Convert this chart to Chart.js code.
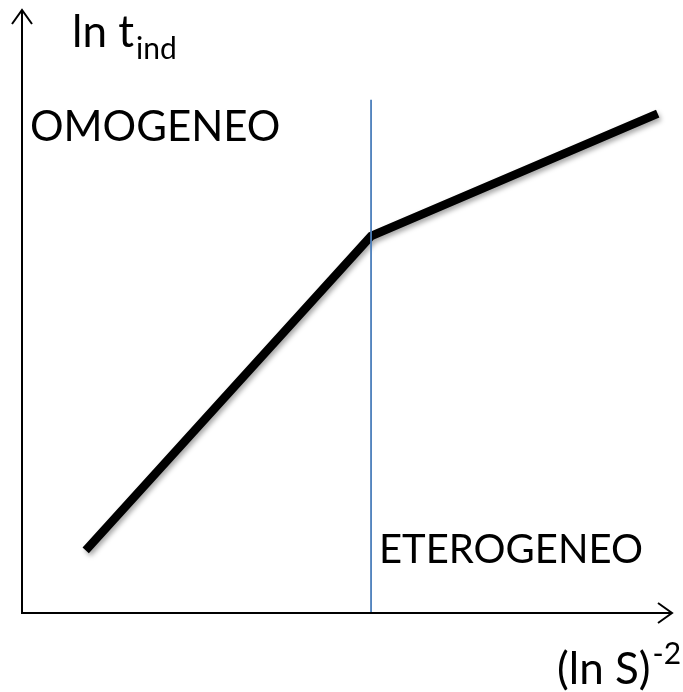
<!DOCTYPE html>
<html>
<head>
<meta charset="utf-8">
<script src="https://cdn.jsdelivr.net/npm/chart.js@4/dist/chart.umd.min.js"></script>
<style>
  html, body { margin: 0; padding: 0; background: #fff; }
  #wrap { width: 683px; height: 692px; }
</style>
</head>
<body>
<div id="wrap"><canvas id="grafico" width="683" height="692"></canvas></div>
<script>
// Dati del grafico (unità arbitrarie 0..10)
const curvaX = [0.98, 5.37, 9.78];
const curvaY = [1.04, 6.25, 8.28];
const sogliaX = [5.37, 5.37];
const sogliaY = [0, 8.51];

const FONT = 'Lato, "Open Sans", sans-serif';

// Plugin: ombra della curva
const ombra = {
    id: 'ombra',
    beforeDatasetDraw(chart, args) {
        if (args.index !== 0) return;
        const ctx = chart.ctx;
        ctx.save();
        ctx.shadowColor = 'rgba(0,0,0,0.35)';
        ctx.shadowBlur = 5;
        ctx.shadowOffsetX = 2;
        ctx.shadowOffsetY = 3;
    },
    afterDatasetDraw(chart, args) {
        if (args.index !== 0) return;
        chart.ctx.restore();
    }
};

// Plugin: assi con frecce ed etichette
const assi = {
    id: 'assi',
    afterDraw(chart) {
        const ctx = chart.ctx;
        const sx = chart.scales.x, sy = chart.scales.y;
        const x0 = sx.getPixelForValue(0), y0 = sy.getPixelForValue(0);
        const x1 = sx.getPixelForValue(10), y1 = sy.getPixelForValue(10);
        ctx.save();
        ctx.strokeStyle = '#000';
        ctx.lineWidth = 2;
        ctx.lineCap = 'butt';
        // asse y
        ctx.beginPath();
        ctx.moveTo(x0, y0 + 1);
        ctx.lineTo(x0, y1);
        ctx.stroke();
        // asse x
        ctx.beginPath();
        ctx.moveTo(x0 - 1, y0);
        ctx.lineTo(x1, y0);
        ctx.stroke();
        // frecce
        ctx.beginPath();
        ctx.moveTo(x0 - 10, y1 + 14);
        ctx.lineTo(x0, y1);
        ctx.lineTo(x0 + 10, y1 + 14);
        ctx.stroke();
        ctx.beginPath();
        ctx.moveTo(x1 - 14, y0 - 10);
        ctx.lineTo(x1, y0);
        ctx.lineTo(x1 - 14, y0 + 10);
        ctx.stroke();

        // testi
        ctx.fillStyle = '#000';
        ctx.textBaseline = 'alphabetic';
        ctx.textAlign = 'left';
        ctx.font = '42px ' + FONT;
        ctx.fillText('OMOGENEO', 30, 141);
        ctx.font = '40px ' + FONT;
        ctx.fillText('ETEROGENEO', 379, 563);
        // ln t_ind
        ctx.font = '44px ' + FONT;
        ctx.fillText('ln t', 72, 47);
        let w = ctx.measureText('ln t').width;
        ctx.font = '30px ' + FONT;
        ctx.fillText('ind', 72 + w + 2, 59);
        // (ln S)^-2
        ctx.font = '44px ' + FONT;
        ctx.fillText('(ln S)', 557, 684);
        w = ctx.measureText('(ln S)').width;
        ctx.font = '30px ' + FONT;
        ctx.fillText('-2', 557 + w + 2, 664);
        ctx.restore();
    }
};

const ctx = document.getElementById('grafico').getContext('2d');
new Chart(ctx, {
    type: 'scatter',
    data: {
        datasets: [{
            label: 'curva',
            data: curvaX.map((x, i) => ({ x: x, y: curvaY[i] })),
            showLine: true,
            borderColor: '#000',
            borderWidth: 8.5,
            borderCapStyle: 'butt',
            borderJoinStyle: 'miter',
            pointRadius: 0,
            fill: false,
            order: 1
        }, {
            label: 'soglia',
            data: sogliaX.map((x, i) => ({ x: x, y: sogliaY[i] })),
            showLine: true,
            borderColor: '#4a7ebb',
            borderWidth: 1.8,
            pointRadius: 0,
            fill: false,
            order: 0
        }]
    },
    options: {
        responsive: false,
        animation: false,
        layout: { padding: { left: 22, right: 11, top: 10, bottom: 79 } },
        plugins: {
            legend: { display: false },
            tooltip: { enabled: false }
        },
        scales: {
            x: { type: 'linear', min: 0, max: 10, display: false },
            y: { type: 'linear', min: 0, max: 10, display: false }
        }
    },
    plugins: [ombra, assi]
});
</script>
</body>
</html>
